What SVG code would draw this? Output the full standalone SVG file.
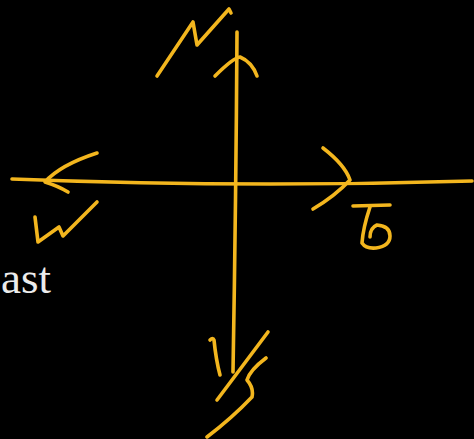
<svg xmlns="http://www.w3.org/2000/svg" width="474" height="439" viewBox="0 0 474 439">
<style>
.ink{fill:none;stroke:#f3b61e;stroke-width:3.6;stroke-linecap:round;stroke-linejoin:round}
.lbl{font-family:"Liberation Serif","Times New Roman",serif;font-size:45px;fill:#ececec}
</style>
<rect width="474" height="439" fill="#000"/>
<g id="axes">
<path class="ink" d="M12,179 Q240,188 472,181"/>
<path class="ink" d="M237,32 Q236,200 233,372"/>
</g>
<g id="north">
<path class="ink" d="M157,76 L193,22 L197,45 L229,9 L231,13"/>
<path class="ink" d="M215,76 Q233,58 240,57 Q252,62 257,76"/>
</g>
<g id="west">
<path class="ink" d="M97,153 Q60,165 45,182 Q58,186 68,192"/>
<path class="ink" d="M35,217 L38,242 L59,227 L63,236 L97,202"/>
</g>
<g id="east">
<path class="ink" d="M323,148 Q345,165 350,180 Q335,196 313,209"/>
<path class="ink" d="M353,206 L390,205"/>
<path class="ink" d="M370,207 Q363,228 362,243 Q366,249 376,248 Q390,246 390,236 Q390,226 377,225 Q370,228 370,237"/>
</g>
<g id="south">
<path class="ink" d="M210,340 Q213,337 214,340 Q216,360 220,375"/>
<path class="ink" d="M268,332 L217,400"/>
<path class="ink" d="M266,358 Q250,370 247,380 Q254,388 252,397 Q232,418 207,437"/>
</g>
<text class="lbl" x="1" y="293">ast</text>
</svg>
